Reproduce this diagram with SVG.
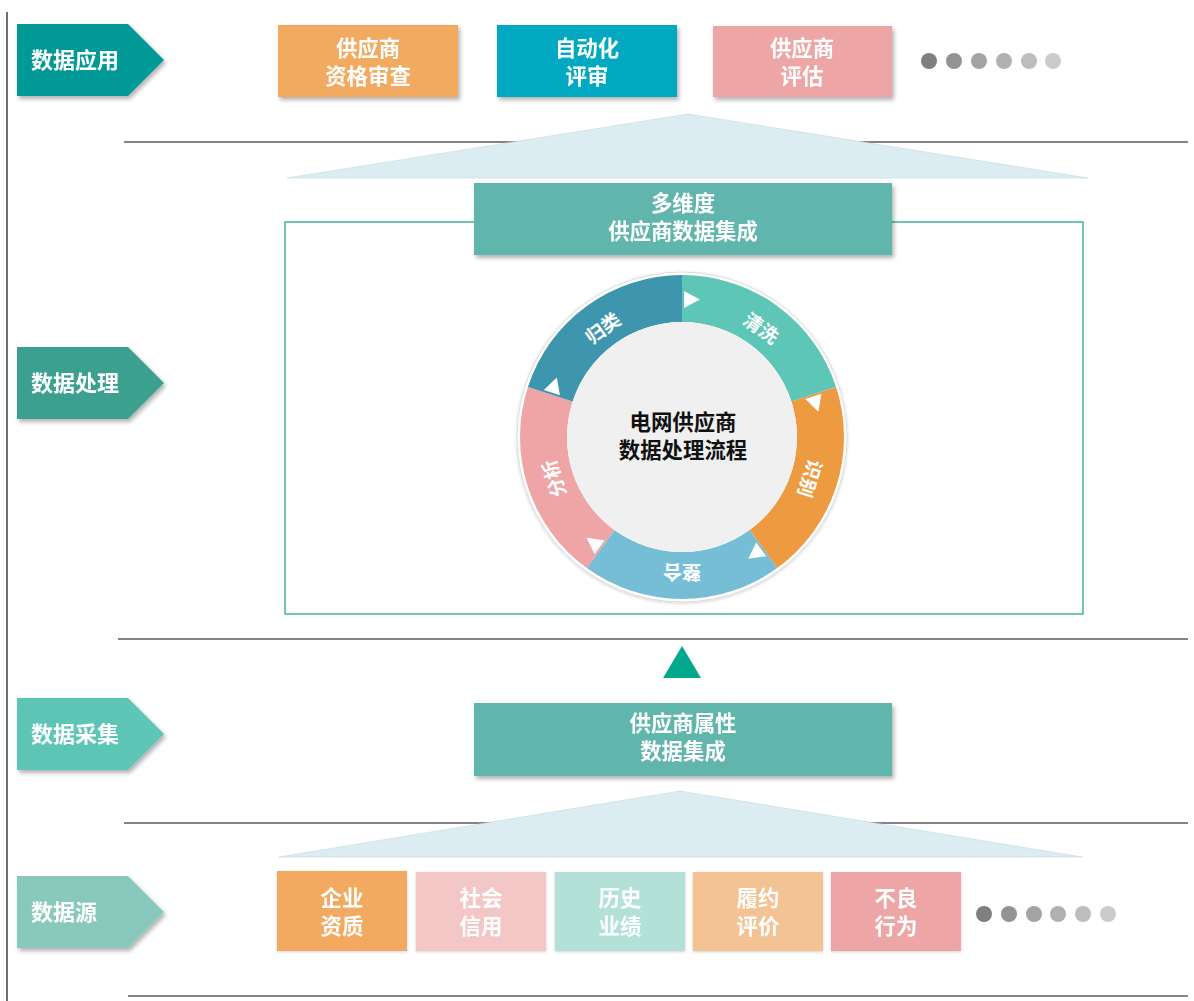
<svg xmlns="http://www.w3.org/2000/svg" width="1194" height="1001" viewBox="0 0 1194 1001">
  <defs>
    <filter id="shadow" x="-10%" y="-10%" width="125%" height="135%">
      <feDropShadow dx="2" dy="3" stdDeviation="2" flood-color="#000" flood-opacity="0.3"/>
    </filter>
    <filter id="softShadow" x="-10%" y="-10%" width="120%" height="120%">
      <feDropShadow dx="0" dy="1" stdDeviation="1.5" flood-color="#000" flood-opacity="0.18"/>
    </filter>
    <style>
      .txt { font-family: "Noto Sans CJK SC", "Noto Sans", sans-serif; font-weight: bold; }
      .w { fill: #ffffff; }
      .lbl { font-size: 22px; }
      .box { font-size: 21.4px; text-anchor: middle; }
      .sep { stroke: #5a5a5a; stroke-width: 1.3; }
      .roof { fill: #dbedf3; stroke: #c8d6dc; stroke-width: 0.6; }
      .seg-t { font-size: 19px; text-anchor: middle; dominant-baseline: central; }
    </style>
  </defs>

  <rect width="1194" height="1001" fill="#ffffff"/>

  <!-- left frame line -->
  <line x1="7" y1="12" x2="7" y2="1001" stroke="#222" stroke-width="1.3"/>

  <!-- separators -->
  <g id="separators">
    <line class="sep" x1="124" y1="142" x2="1188" y2="142"/>
    <line class="sep" x1="118" y1="639" x2="1188" y2="639"/>
    <line class="sep" x1="124" y1="823" x2="1188" y2="823"/>
    <line class="sep" x1="128" y1="996" x2="1188" y2="996"/>
  </g>

  <!-- layer labels -->
  <g id="label-app" filter="url(#shadow)">
    <polygon points="17,24 128,24 164,60 128,96 17,96" fill="#049996"/>
    <text class="txt w lbl" x="31" y="68">数据应用</text>
  </g>
  <g id="label-proc" filter="url(#shadow)">
    <polygon points="17,347 128,347 164,383 128,419 17,419" fill="#3aa08f"/>
    <text class="txt w lbl" x="31" y="391">数据处理</text>
  </g>
  <g id="label-collect" filter="url(#shadow)">
    <polygon points="17,698 128,698 164,734 128,770 17,770" fill="#5bc5b6"/>
    <text class="txt w lbl" x="31" y="742">数据采集</text>
  </g>
  <g id="label-source" filter="url(#shadow)">
    <polygon points="17,876 128,876 164,912 128,948 17,948" fill="#88c9bb"/>
    <text class="txt w lbl" x="31" y="920">数据源</text>
  </g>

  <!-- application layer -->
  <g id="app-qualify" filter="url(#shadow)">
    <rect x="278" y="25" width="180" height="72" fill="#f2a961"/>
    <text class="txt w box" x="368" y="56">供应商</text>
    <text class="txt w box" x="368" y="84">资格审查</text>
  </g>
  <g id="app-auto" filter="url(#shadow)">
    <rect x="497" y="25" width="180" height="72" fill="#03a9c1"/>
    <text class="txt w box" x="587" y="56">自动化</text>
    <text class="txt w box" x="587" y="84">评审</text>
  </g>
  <g id="app-assess" filter="url(#shadow)">
    <rect x="713" y="26" width="179" height="71" fill="#eea5a5"/>
    <text class="txt w box" x="802" y="56">供应商</text>
    <text class="txt w box" x="802" y="84">评估</text>
  </g>
  <g id="app-more">
    <circle cx="929" cy="61" r="8" fill="#7f7f7f"/>
    <circle cx="954" cy="61" r="8" fill="#939393"/>
    <circle cx="979" cy="61" r="8" fill="#a3a3a3"/>
    <circle cx="1004" cy="61" r="8" fill="#b0b0b0"/>
    <circle cx="1029" cy="61" r="8" fill="#bdbdbd"/>
    <circle cx="1053" cy="61" r="8" fill="#cbcbcb"/>
  </g>

  <!-- connectors -->
  <g id="connectors">
    <polygon class="roof" points="688,114 1088,178 287,178"/>
    <polygon points="682,646 701,678 663,678" fill="#02a88b"/>
    <polygon class="roof" points="680,791 1082,857 279,857"/>
  </g>

  <!-- processing frame -->
  <rect id="proc-frame" x="285" y="222" width="798" height="392" fill="none" stroke="#17a086" stroke-width="1.2"/>

  <g id="multi-integration" filter="url(#shadow)">
    <rect x="474" y="183" width="418" height="72" fill="#61b6ad"/>
    <text class="txt w box" x="683" y="211">多维度</text>
    <text class="txt w box" x="683" y="239">供应商数据集成</text>
  </g>

  <!-- processing cycle -->
  <g id="cycle">
    <circle cx="682" cy="437" r="165" fill="#ffffff" stroke="#dcdcdc" stroke-width="1" filter="url(#softShadow)"/>
    <path id="seg-clean" d="M682,275 A162,162 0 0 1 836.07,386.94 L791.38,401.46 A115,115 0 0 0 682,322 Z" fill="#5ec6b6"/>
    <path id="seg-identify" d="M836.07,386.94 A162,162 0 0 1 777.22,568.06 L749.60,530.04 A115,115 0 0 0 791.38,401.46 Z" fill="#ee9a40"/>
    <path id="seg-merge" d="M777.22,568.06 A162,162 0 0 1 586.78,568.06 L614.40,530.04 A115,115 0 0 0 749.60,530.04 Z" fill="#76bed6"/>
    <path id="seg-analyse" d="M586.78,568.06 A162,162 0 0 1 527.93,386.94 L572.62,401.46 A115,115 0 0 0 614.40,530.04 Z" fill="#efa5a5"/>
    <path id="seg-classify" d="M527.93,386.94 A162,162 0 0 1 682,275 L682,322 A115,115 0 0 0 572.62,401.46 Z" fill="#3d95ae"/>

    <!-- direction marks at each boundary -->
    <g fill="#ffffff">
      <polygon points="684,291 684,308 700,299.5"/>
      <polygon points="684,291 684,308 700,299.5" transform="rotate(72 682 437)"/>
      <polygon points="684,291 684,308 700,299.5" transform="rotate(144 682 437)"/>
      <polygon points="684,291 684,308 700,299.5" transform="rotate(216 682 437)"/>
      <polygon points="684,291 684,308 700,299.5" transform="rotate(288 682 437)"/>
    </g>

    <!-- stage names -->
    <text class="txt w seg-t" x="682" y="301" transform="rotate(36 682 437)">清洗</text>
    <text class="txt w seg-t" x="682" y="301" transform="rotate(108 682 437)">识别</text>
    <text class="txt w seg-t" x="682" y="301" transform="rotate(180 682 437)">整合</text>
    <text class="txt w seg-t" x="682" y="301" transform="rotate(252 682 437)">分析</text>
    <text class="txt w seg-t" x="682" y="301" transform="rotate(324 682 437)">归类</text>

    <circle cx="682" cy="437" r="115" fill="#f0f0f0"/>
    <text class="txt box" x="683" y="430" fill="#111">电网供应商</text>
    <text class="txt box" x="683" y="458" fill="#111">数据处理流程</text>
  </g>

  <!-- collection layer -->
  <g id="attr-integration" filter="url(#shadow)">
    <rect x="474" y="703" width="418" height="73" fill="#61b6ad"/>
    <text class="txt w box" x="683" y="731">供应商属性</text>
    <text class="txt w box" x="683" y="759">数据集成</text>
  </g>

  <!-- source layer -->
  <g id="src-qualification" filter="url(#softShadow)">
    <rect x="277" y="871" width="130" height="80" fill="#f2a961"/>
    <text class="txt w box" x="342" y="906">企业</text>
    <text class="txt w box" x="342" y="934">资质</text>
  </g>
  <g id="src-credit" filter="url(#softShadow)">
    <rect x="416" y="872" width="130" height="79" fill="#f4c7c7"/>
    <text class="txt w box" x="481" y="906">社会</text>
    <text class="txt w box" x="481" y="934">信用</text>
  </g>
  <g id="src-history" filter="url(#softShadow)">
    <rect x="555" y="872" width="130" height="79" fill="#b3e1d8"/>
    <text class="txt w box" x="620" y="906">历史</text>
    <text class="txt w box" x="620" y="934">业绩</text>
  </g>
  <g id="src-performance" filter="url(#softShadow)">
    <rect x="693" y="872" width="130" height="79" fill="#f4c393"/>
    <text class="txt w box" x="758" y="906">履约</text>
    <text class="txt w box" x="758" y="934">评价</text>
  </g>
  <g id="src-misconduct" filter="url(#softShadow)">
    <rect x="831" y="872" width="130" height="79" fill="#eea5a5"/>
    <text class="txt w box" x="896" y="906">不良</text>
    <text class="txt w box" x="896" y="934">行为</text>
  </g>
  <g id="src-more">
    <circle cx="984" cy="914" r="8" fill="#7f7f7f"/>
    <circle cx="1009" cy="914" r="8" fill="#939393"/>
    <circle cx="1034" cy="914" r="8" fill="#a3a3a3"/>
    <circle cx="1058" cy="914" r="8" fill="#b0b0b0"/>
    <circle cx="1083" cy="914" r="8" fill="#bdbdbd"/>
    <circle cx="1108" cy="914" r="8" fill="#cbcbcb"/>
  </g>
</svg>
